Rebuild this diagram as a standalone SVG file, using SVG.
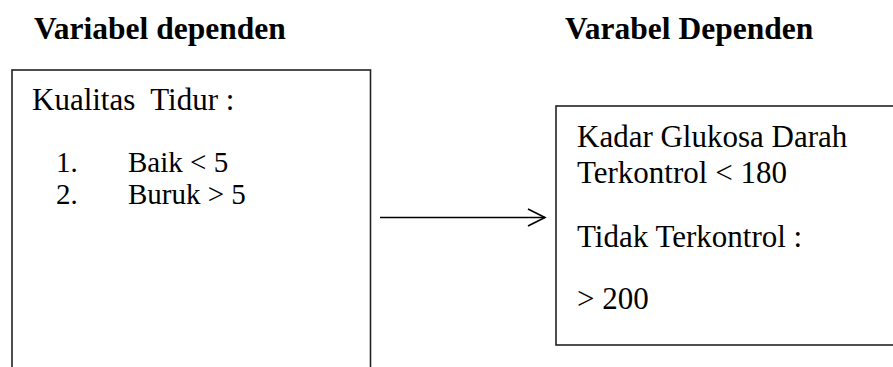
<svg xmlns="http://www.w3.org/2000/svg" width="893" height="367" viewBox="0 0 893 367">
<style>
.box{fill:#fff;stroke:#222;stroke-width:1.6}
.conn{stroke:#000;stroke-width:1.6;fill:none}
</style>
<rect width="893" height="367" fill="#fff"/>
<g font-family="Liberation Serif" font-weight="bold" font-size="31.5" fill="#000">
<text x="34" y="39">Variabel dependen</text>
<text x="565" y="39">Varabel Dependen</text>
</g>
<g id="node-kualitas" font-family="Liberation Serif" font-size="31" fill="#000">
<rect class="box" x="12" y="70" width="358.5" height="310"/>
<text x="32" y="110" xml:space="preserve">Kualitas  Tidur :</text>
<text x="56" y="171.5" font-size="29">1.</text>
<text x="128" y="171.5" font-size="29">Baik &lt; 5</text>
<text x="56" y="204" font-size="29">2.</text>
<text x="128" y="204" font-size="29">Buruk &gt; 5</text>
</g>
<g id="node-glukosa" font-family="Liberation Serif" font-size="31" fill="#000">
<rect class="box" x="556" y="106" width="340" height="239"/>
<text x="577" y="147">Kadar Glukosa Darah</text>
<text x="577" y="183">Terkontrol &lt; 180</text>
<text x="577" y="247">Tidak Terkontrol :</text>
<text x="577" y="309">&gt; 200</text>
</g>
<g id="connectors">
<line class="conn" x1="380" y1="217.5" x2="545" y2="217.5"/>
<polyline class="conn" points="528,209 545,217.5 528,226"/>
</g>
</svg>
